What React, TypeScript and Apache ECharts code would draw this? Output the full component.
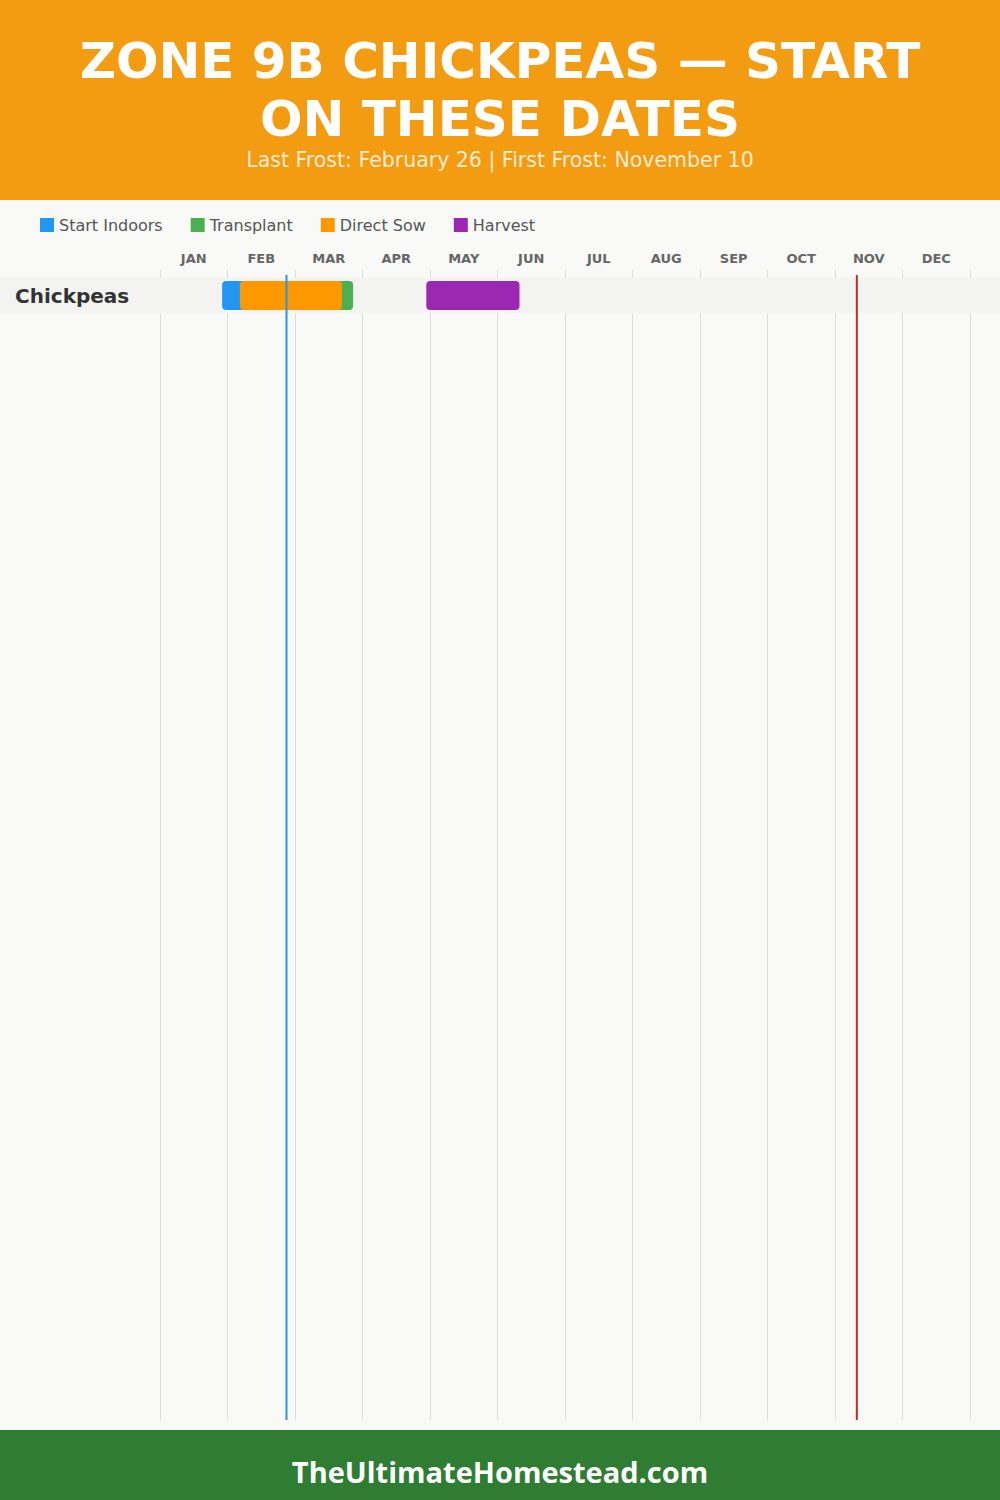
import React, { useEffect, useRef } from "react";
import * as echarts from "echarts";

const months = ["JAN", "FEB", "MAR", "APR", "MAY", "JUN", "JUL", "AUG", "SEP", "OCT", "NOV", "DEC"];
const crops = ["Chickpeas"];
const phaseNames = ["Start Indoors", "Transplant", "Direct Sow", "Harvest"];
const phaseColors = ["#2196f3", "#4caf50", "#ff9800", "#9c27b0"];
// [start, end] as MM-DD, one per crop
const startIndoors = [["01-28", "02-26"]];
const transplant = [["02-26", "03-28"]];
const directSow = [["02-05", "03-23"]];
const harvest = [["04-30", "06-11"]];
const lastFrost = "02-26";
const firstFrost = "11-10";

const titleLines = ["ZONE 9B CHICKPEAS — START", "ON THESE DATES"];
const subtitleText = "Last Frost: February 26 | First Frost: November 10";
const footerText = "TheUltimateHomestead.com";

const DAYS = [31, 28, 31, 30, 31, 30, 31, 31, 30, 31, 30, 31];
function toMonths(md: string): number {
  const [m, d] = md.split("-").map(Number);
  let doy = d;
  for (let i = 0; i < m - 1; i++) doy += DAYS[i];
  return (doy / 365) * 12;
}

const FONT = "'DejaVu Sans', 'Noto Sans', sans-serif";
const FOOT_FONT = "'Open Sans', 'Noto Sans', sans-serif";

export default function App() {
  const ref = useRef<HTMLDivElement>(null);
  useEffect(() => {
    document.body.style.margin = "0";
    const chart = echarts.init(ref.current!, null, { renderer: "svg" });
    const phases = [startIndoors, transplant, directSow, harvest];
    const ROW_TOP = 8;
    const ROW_H = 35;

    const bandSeries: any = {
      type: "custom",
      name: "rows",
      xAxisIndex: 0,
      yAxisIndex: 0,
      silent: true,
      z: 1,
      data: crops.map((c, i) => [0, 12, i]),
      encode: { x: [0, 1] },
      renderItem: (params: any, api: any) => {
        const cs = params.coordSys;
        const i = api.value(2);
        const y = cs.y + ROW_TOP + i * ROW_H;
        return {
          type: "group",
          children: [
            { type: "rect", shape: { x: 0, y, width: 1000, height: ROW_H }, style: { fill: "#f3f3f2" } },
            {
              type: "text",
              style: {
                x: 15,
                y: y + ROW_H / 2,
                text: crops[i],
                fill: "#333333",
                font: `bold 20px ${FONT}`,
                verticalAlign: "middle",
                align: "left",
              },
            },
          ],
        };
      },
    };

    const phaseSeries = phases.map((arr, k) => ({
      type: "custom",
      name: phaseNames[k],
      xAxisIndex: 0,
      yAxisIndex: 0,
      z: 2 + k,
      itemStyle: { color: phaseColors[k] },
      data: arr.map((r, i) => [toMonths(r[0]), toMonths(r[1]), i]),
      encode: { x: [0, 1] },
      renderItem: (params: any, api: any) => {
        const cs = params.coordSys;
        const i = api.value(2);
        const x0 = api.coord([api.value(0), 0])[0];
        const x1 = api.coord([api.value(1), 0])[0];
        const y = cs.y + ROW_TOP + i * ROW_H + 3;
        return {
          type: "rect",
          shape: { x: x0, y, width: x1 - x0, height: ROW_H - 6, r: 4 },
          style: { fill: api.visual("color") },
        };
      },
    }));

    const frostSeries: any = {
      type: "custom",
      name: "frost",
      xAxisIndex: 0,
      yAxisIndex: 0,
      z: 10,
      silent: true,
      data: [
        [toMonths(lastFrost), 0],
        [toMonths(firstFrost), 1],
      ],
      encode: { x: 0 },
      renderItem: (params: any, api: any) => {
        const cs = params.coordSys;
        const x = api.coord([api.value(0), 0])[0];
        return {
          type: "line",
          shape: { x1: x, y1: cs.y + 5, x2: x, y2: cs.y + cs.height },
          style: { stroke: api.value(1) === 0 ? "#2196f3" : "#c62828", lineWidth: 2 },
        };
      },
    };

    chart.setOption({
      animation: false,
      backgroundColor: "#f9f9f8",
      textStyle: { fontFamily: FONT },
      grid: { left: 160, right: 30, top: 270, bottom: 80 },
      legend: {
        data: phaseNames,
        left: 35,
        top: 212,
        icon: "rect",
        itemWidth: 14,
        itemHeight: 14,
        itemGap: 28,
        itemStyle: { borderWidth: 0 },
        textStyle: { fontSize: 16, color: "#555555", fontFamily: FONT },
        selectedMode: false,
      },
      xAxis: [
        {
          type: "value",
          min: 0,
          max: 12,
          interval: 1,
          axisLabel: { show: false },
          axisLine: { show: false },
          axisTick: { show: false },
          splitLine: { show: true, lineStyle: { color: "#dddddd", width: 1 } },
        },
        {
          type: "category",
          position: "top",
          data: months,
          boundaryGap: true,
          axisLine: { show: false },
          axisTick: { show: false },
          splitLine: { show: false },
          axisLabel: { color: "#666666", fontWeight: "bold", fontSize: 13, margin: 5, fontFamily: FONT },
        },
      ],
      yAxis: { type: "value", min: 0, max: 1, show: false, splitLine: { show: false } },
      graphic: [
        { type: "rect", left: 0, top: 0, shape: { width: 1000, height: 200 }, style: { fill: "#f39c12" }, z: 0 },
        {
          type: "text",
          style: {
            x: 500,
            y: 61,
            text: titleLines[0],
            fill: "#ffffff",
            font: `bold 50px ${FONT}`,
            lineHeight: 46,
            align: "center",
            verticalAlign: "middle",
          },
        },
        {
          type: "text",
          style: {
            x: 500,
            y: 119,
            text: titleLines[1],
            fill: "#ffffff",
            font: `bold 50px ${FONT}`,
            lineHeight: 46,
            align: "center",
            verticalAlign: "middle",
          },
        },
        {
          type: "text",
          style: {
            x: 500,
            y: 160,
            text: subtitleText,
            fill: "rgba(255,255,255,0.82)",
            font: `20.5px ${FONT}`,
            lineHeight: 20,
            align: "center",
            verticalAlign: "middle",
          },
        },
        { type: "rect", left: 0, top: 1430, shape: { width: 1000, height: 70 }, style: { fill: "#2e7d32" } },
        {
          type: "text",
          style: {
            x: 500,
            y: 1471,
            text: footerText,
            fill: "#ffffff",
            font: `bold 29px ${FOOT_FONT}`,
            align: "center",
            verticalAlign: "middle",
          },
        },
      ],
      series: [bandSeries, ...phaseSeries, frostSeries],
    });
    return () => chart.dispose();
  }, []);
  return <div ref={ref} style={{ width: 1000, height: 1500 }} />;
}
